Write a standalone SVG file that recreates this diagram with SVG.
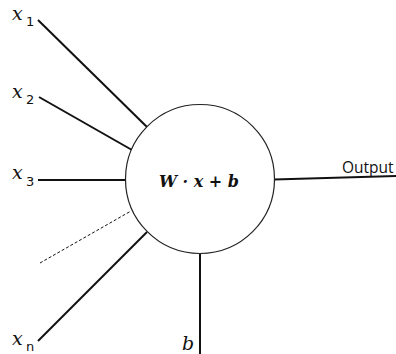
<svg xmlns="http://www.w3.org/2000/svg" width="396" height="354" viewBox="0 0 396 354">
<style>
.ln{stroke:#111;stroke-width:2;fill:none}
.dash{stroke:#111;stroke-width:1;stroke-dasharray:3,2;fill:none}
.var{font-family:"DejaVu Serif","Liberation Serif",serif;font-style:italic;font-size:19px;fill:#111}
.sub{font-family:"DejaVu Sans","Liberation Sans",sans-serif;font-size:13px;fill:#111}
.lbl{font-family:"Open Sans","Liberation Sans",sans-serif;font-size:15.5px;fill:#111}
.eq{font-family:"DejaVu Serif","Liberation Serif",serif;font-style:italic;font-weight:bold;font-size:16px;fill:#111}
</style>
<rect width="396" height="354" fill="#fff"/>
<g id="connectors">
<line class="ln" x1="38" y1="20" x2="147" y2="127"/>
<line class="ln" x1="39" y1="97" x2="132" y2="150"/>
<line class="ln" x1="38" y1="180" x2="125" y2="180"/>
<line class="dash" x1="40" y1="263" x2="131" y2="211"/>
<line class="ln" x1="38" y1="341" x2="147" y2="232"/>
<line class="ln" x1="200" y1="253" x2="200" y2="354"/>
<line class="ln" x1="274" y1="179.5" x2="396" y2="176"/>
</g>
<g id="neuron">
<circle cx="200" cy="179" r="74.5" fill="#fff" stroke="#222" stroke-width="1.2"/>
<text class="eq" x="199" y="187" text-anchor="middle">W · x + b</text>
</g>
<g id="x1"><text class="var" x="12" y="20">x</text><text class="sub" x="26" y="26">1</text></g>
<g id="x2"><text class="var" x="12" y="98">x</text><text class="sub" x="26" y="104">2</text></g>
<g id="x3"><text class="var" x="12" y="179">x</text><text class="sub" x="26" y="186">3</text></g>
<g id="xn"><text class="var" x="12" y="345">x</text><text class="sub" x="26" y="351">n</text></g>
<g id="b"><text class="var" x="182" y="350">b</text></g>
<g id="output"><text class="lbl" x="342" y="173">Output</text></g>
</svg>
